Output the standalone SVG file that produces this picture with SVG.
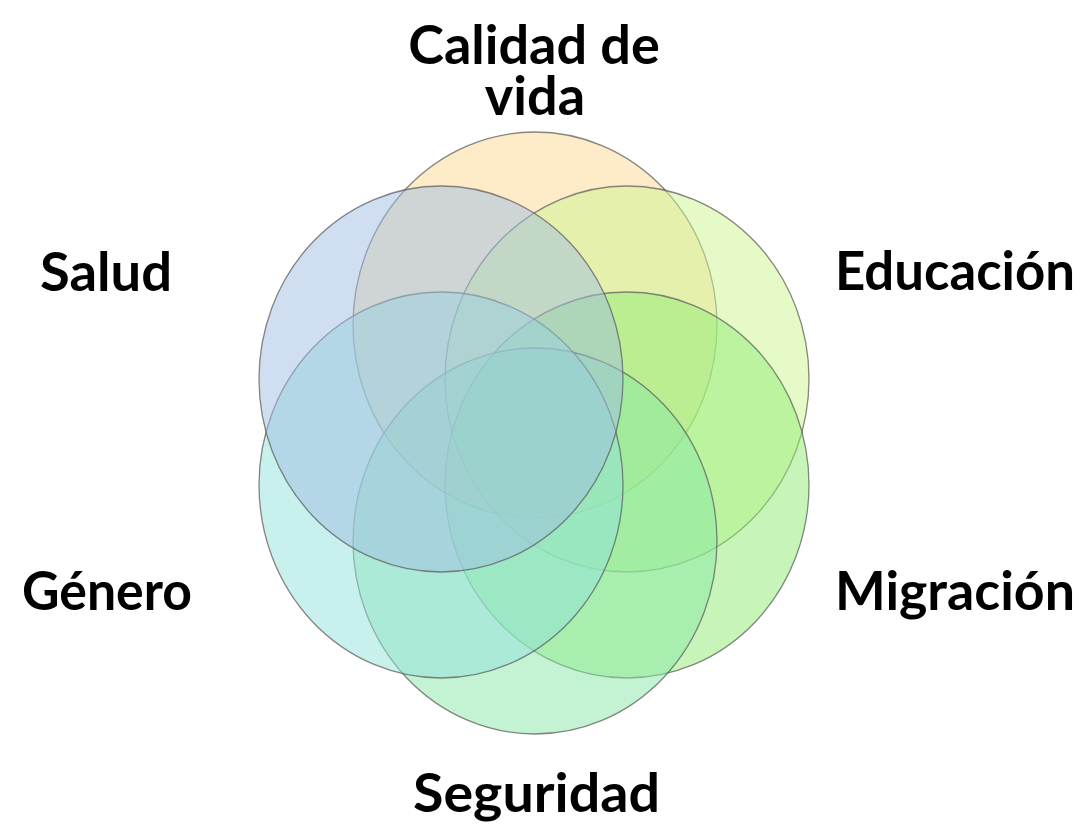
<svg xmlns="http://www.w3.org/2000/svg" width="1089" height="826" viewBox="0 0 1089 826">
  <style>
    .c { stroke: #5f5f5f; stroke-opacity: 0.75; stroke-width: 1.3; fill-opacity: 0.5; }
    .t { font-family: Lato, "Open Sans", "Liberation Sans", sans-serif; font-weight: bold; font-size: 54px; fill: #000; }
  </style>
  <rect width="1089" height="826" fill="#ffffff"/>
  <g id="calidad">
    <ellipse class="c" cx="535" cy="325" rx="182" ry="193" fill="#FDD791"/>
  </g>
  <g id="educacion">
    <ellipse class="c" cx="627" cy="379" rx="182" ry="193" fill="#CDF591"/>
  </g>
  <g id="migracion">
    <ellipse class="c" cx="627" cy="485" rx="182" ry="193" fill="#8FEB73"/>
  </g>
  <g id="seguridad">
    <ellipse class="c" cx="535" cy="541" rx="182" ry="193" fill="#87E7A5"/>
  </g>
  <g id="genero">
    <ellipse class="c" cx="441" cy="485" rx="182" ry="193" fill="#91E1D9"/>
  </g>
  <g id="salud">
    <ellipse class="c" cx="441" cy="379" rx="182" ry="193" fill="#9FBDE1"/>
  </g>
  <g id="labels">
    <text class="t" text-anchor="middle"><tspan x="534" y="64">Calidad de</tspan><tspan x="535" y="115">vida</tspan></text>
    <text class="t" x="40" y="291" textLength="132" lengthAdjust="spacingAndGlyphs">Salud</text>
    <text class="t" x="835" y="290" textLength="240" lengthAdjust="spacingAndGlyphs">Educación</text>
    <text class="t" x="22" y="610" textLength="170" lengthAdjust="spacingAndGlyphs">Género</text>
    <text class="t" x="835" y="610" textLength="240" lengthAdjust="spacingAndGlyphs">Migración</text>
    <text class="t" x="413" y="812" textLength="247" lengthAdjust="spacingAndGlyphs">Seguridad</text>
  </g>
</svg>
